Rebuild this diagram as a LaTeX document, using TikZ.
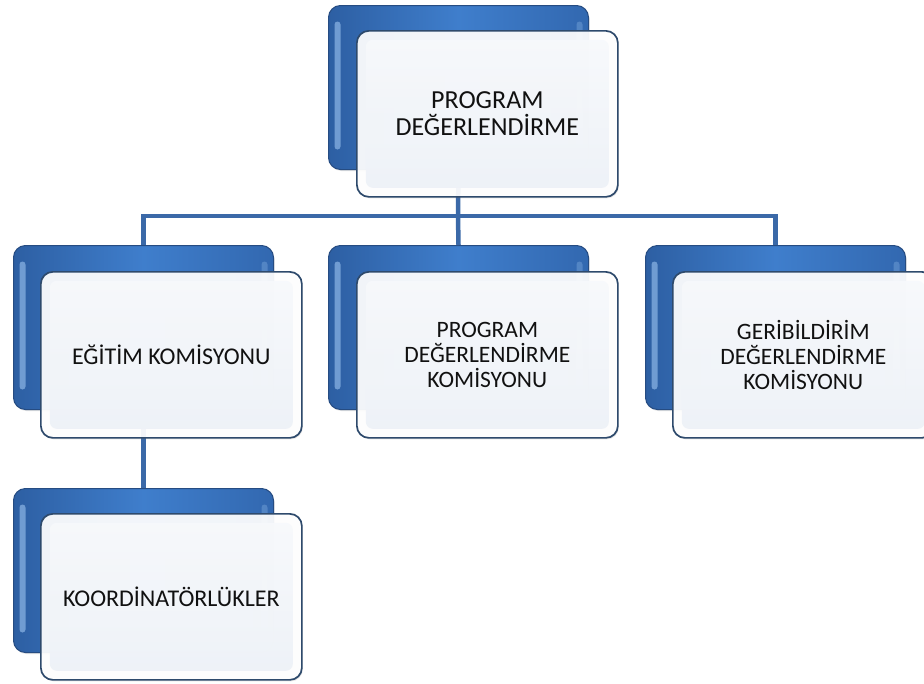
\documentclass[tikz,border=0pt]{standalone}
\usepackage{fontspec}
\setmainfont{Carlito}
\usetikzlibrary{calc,shadows}
\definecolor{bdark}{HTML}{2D5FA3}
\definecolor{bdark2}{HTML}{3268B0}
\definecolor{bmid}{HTML}{3F7ECC}
\definecolor{bedge}{HTML}{264C82}
\definecolor{bhi}{HTML}{9CC4F0}
\definecolor{wedge}{HTML}{2E4A6C}
\definecolor{winner}{HTML}{EDF1F7}
\definecolor{conncol}{HTML}{3B69A8}
\definecolor{txt}{HTML}{111111}
\begin{document}
\begin{tikzpicture}[x=1pt,y=-1pt,
  bluebox/.style={draw=bedge, line width=1pt, rounded corners=12pt,
    left color=bdark, right color=bdark2, middle color=bmid,
    minimum width=260pt, minimum height=164pt, inner sep=0pt, anchor=north west,
    drop shadow={opacity=0.22, shadow xshift=1pt, shadow yshift=-1.5pt},
    path picture={
      \fill[bhi, opacity=0.6, rounded corners=3pt]
        ($(path picture bounding box.north west)+(6,16)$) rectangle
        ($(path picture bounding box.south west)+(12,-20)$);
      \fill[bhi, opacity=0.3, rounded corners=3pt]
        ($(path picture bounding box.north east)+(-12,16)$) rectangle
        ($(path picture bounding box.south east)+(-6,-20)$);
    }},
  whitebox/.style={draw=wedge, line width=1.7pt, rounded corners=12pt,
    fill=white, fill opacity=0.93, text opacity=1,
    minimum width=261pt, minimum height=166pt, inner sep=0pt, anchor=north west,
    align=center, text=txt,
    drop shadow={opacity=0.2, shadow xshift=1pt, shadow yshift=-1.5pt},
    path picture={
      \shade[top color=white!60!winner, bottom color=winner, rounded corners=7pt, opacity=0.95]
        ($(path picture bounding box.north west)+(9,9)$) rectangle
        ($(path picture bounding box.south east)+(-9,-9)$);
    }},
  conn/.style={draw=conncol, line width=4.5pt}
]
\clip (0,0) rectangle (924,683);
\fill[white] (0,0) rectangle (924,683);

% back (blue) boxes
\node[bluebox] (topb)  at (328,5)   {};
\node[bluebox] (leftb) at (13,245)  {};
\node[bluebox] (midb)  at (328,245) {};
\node[bluebox] (rightb) at (645,245) {};
\node[bluebox] (coorb) at (13,488)  {};

% connectors
\coordinate (bus) at (458,216);
\draw[conn] (topb.south) -- (bus);
\draw[conn] (leftb.north) |- (bus) -| (rightb.north);
\draw[conn] (bus) -- (midb.north);
\draw[conn] (leftb.south) -- (coorb.north);

% front (white) boxes
\node[whitebox, font=\fontsize{26}{27}\selectfont] (topw) at (356,30)
  {PROGRAM\\DEĞERLENDİRME};
\node[whitebox, font=\fontsize{24}{25}\selectfont] (leftw) at (40,271)
  {EĞİTİM KOMİSYONU};
\node[whitebox, font=\fontsize{23.5}{25}\selectfont] (midw) at (356,271)
  {PROGRAM\\DEĞERLENDİRME\\KOMİSYONU};
\node[whitebox, font=\fontsize{23.5}{25}\selectfont] (rightw) at (672,271)
  {GERİBİLDİRİM\\DEĞERLENDİRME\\KOMİSYONU};
\node[whitebox, font=\fontsize{24}{25}\selectfont] (coorw) at (40,513)
  {KOORDİNATÖRLÜKLER};
\end{tikzpicture}
\end{document}
